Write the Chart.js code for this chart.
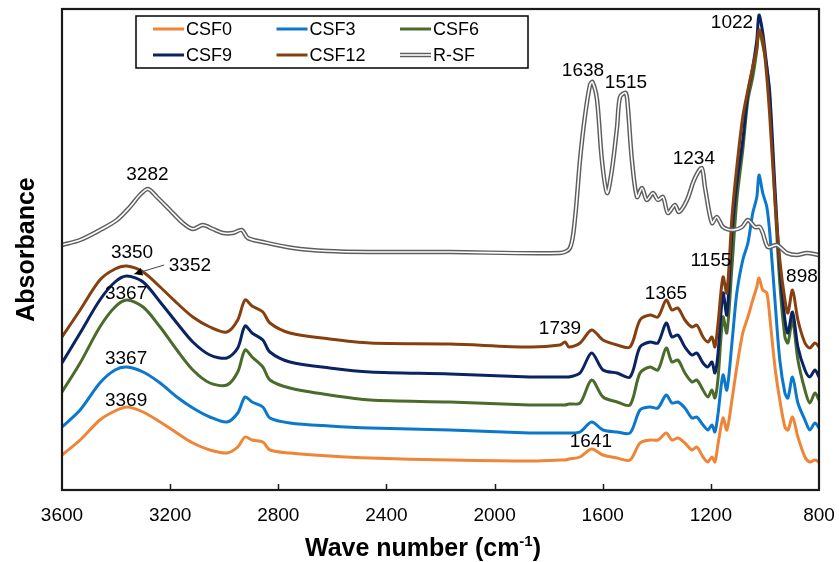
<!DOCTYPE html>
<html>
<head>
<meta charset="utf-8">
<script src="https://cdn.jsdelivr.net/npm/chart.js@4.4.1/dist/chart.umd.min.js"></script>
<style>
    html, body { margin: 0; padding: 0; background: #fff; }
</style>
</head>
<body>
<canvas id="ftir" width="839" height="562"></canvas>
<script>
// Wave numbers (cm-1) of the CSF spectra
const WN_CSF = [3600, 3533, 3460, 3404, 3360, 3300, 3237, 3175, 3116, 3053, 2990, 2950, 2923, 2897, 2857, 2831, 2757, 2610, 2460, 2165, 1870, 1758,
    1739, 1725, 1684, 1641, 1599, 1547, 1499, 1462, 1425, 1396, 1365, 1344, 1322, 1296, 1270, 1252, 1229, 1211, 1196, 1185,
    1174, 1155, 1141, 1122, 1104, 1082, 1063, 1045, 1030, 1022, 1008, 993, 982, 963, 945, 926, 915, 898, 878, 852, 834, 815, 800]

// Absorbance (a.u., stacked offsets as in the figure)
const CSF0 = [35, 50, 70, 79, 83, 78, 68, 57, 47, 40, 37, 43, 53, 50, 48, 40, 37, 34, 32, 30, 29, 30,
    30, 31, 33, 41, 35, 32, 30, 47, 50, 50, 57, 50, 52, 47, 40, 43, 33, 28, 33, 28,
    45, 72, 60, 90, 123, 157, 173, 190, 203, 212, 200, 197, 173, 123, 90, 63, 60, 73, 53, 33, 28, 30, 28]
const CSF3 = [63, 80, 107, 120, 123, 118, 107, 93, 82, 73, 68, 77, 93, 88, 83, 72, 67, 64, 62, 60, 57, 57,
    57, 57, 58, 68, 60, 58, 57, 80, 83, 82, 95, 87, 88, 82, 72, 73, 65, 60, 65, 58,
    75, 115, 100, 147, 197, 230, 247, 277, 293, 315, 297, 283, 257, 190, 130, 97, 92, 113, 87, 70, 60, 67, 62]
const CSF6 = [98, 127, 163, 183, 190, 183, 163, 140, 120, 107, 105, 118, 140, 133, 123, 110, 102, 95, 90, 88, 85, 85,
    85, 86, 87, 110, 93, 88, 85, 117, 123, 120, 142, 128, 130, 117, 108, 110, 100, 93, 100, 92,
    110, 173, 157, 223, 290, 340, 390, 413, 440, 460, 445, 423, 390, 290, 207, 153, 147, 170, 130, 100, 87, 97, 90]
const CSF9 = [127, 157, 190, 208, 214, 208, 188, 167, 148, 135, 132, 142, 164, 157, 150, 138, 128, 122, 118, 116, 113, 113,
    113, 113, 117, 137, 120, 117, 113, 143, 148, 147, 167, 153, 155, 143, 135, 137, 127, 123, 128, 117,
    135, 197, 175, 257, 307, 350, 397, 423, 450, 475, 457, 423, 397, 303, 223, 170, 157, 178, 143, 120, 113, 120, 113]
const CSF12 = [153, 180, 210, 221, 224, 218, 203, 187, 173, 163, 158, 170, 190, 184, 178, 167, 157, 151, 147, 146, 143, 145,
    148, 143, 147, 160, 150, 145, 143, 170, 175, 173, 190, 180, 182, 170, 163, 165, 153, 148, 153, 143,
    165, 213, 197, 273, 323, 373, 400, 423, 442, 460, 450, 413, 373, 290, 230, 190, 177, 200, 170, 147, 142, 147, 143]

// Raw silk fibroin
const WN_RSF = [3600, 3533, 3459, 3397, 3349, 3312, 3282, 3249, 3201, 3153, 3116, 3079, 3042, 3005, 2968, 2935, 2913, 2857, 2746, 2620,
    2461, 2165, 1758, 1721, 1703, 1684, 1666, 1647, 1638, 1621, 1603, 1584, 1566, 1547, 1536, 1515, 1507, 1492, 1473, 1455,
    1437, 1414, 1396, 1377, 1359, 1333, 1318, 1288, 1262, 1234, 1222, 1196, 1178, 1155, 1118, 1085, 1063, 1037, 1019, 1008,
    989, 956, 919, 882, 845, 800]
const RSF = [245, 250, 260, 270, 283, 295, 301, 293, 280, 267, 261, 265, 261, 257, 257, 260, 252, 248, 242, 239,
    238, 238, 237, 242, 270, 330, 373, 405, 408, 390, 330, 297, 320, 363, 393, 397, 383, 330, 293, 302,
    290, 297, 290, 293, 277, 285, 278, 290, 310, 322, 303, 267, 273, 263, 260, 263, 270, 263, 263, 257,
    243, 245, 237, 235, 237, 235]

const X_TICKS_STEP = 400

// Peak labels: text, wave number and absorbance of the label centre
const PEAK_TEXT = ['3282', '3350', '3352', '3367', '3367', '3369', '1638', '1515', '1234', '1022', '1155', '898', '1365', '1739', '1641']
const PEAK_X    = [3284, 3341, 3127, 3363, 3363, 3363, 1673, 1514, 1263, 1122, 1200, 863, 1366, 1758, 1644]
const PEAK_Y    = [315, 237, 224, 196, 131, 89, 419, 407, 331, 467, 229, 213, 196, 161, 48]

const NAMES  = ['CSF0', 'CSF3', 'CSF6', 'CSF9', 'CSF12', 'R-SF']
const COLORS = ['#EF8536', '#0B78CC', '#4A6B2A', '#0A2463', '#86400F', '#5E5E5E']

const FONT = '"Liberation Sans", Arial, sans-serif'

const pts = (xs, ys) => xs.map((x, i) => ({ x, y: ys[i] }))

const SERIES = [CSF0, CSF3, CSF6, CSF9, CSF12]
const datasets = SERIES.map((s, i) => ({
    label: NAMES[i],
    data: pts(WN_CSF, s),
    borderColor: COLORS[i],
    borderWidth: 3,
    order: 6 - i
}))
// R-SF: grey outline with a white core
datasets.push({ label: 'R-SF', data: pts(WN_RSF, RSF), borderColor: COLORS[5], borderWidth: 4.5, order: 1 })
datasets.push({ label: 'R-SF core', data: pts(WN_RSF, RSF), borderColor: '#ffffff', borderWidth: 1.6, order: 0 })

const decor = {
    id: 'decor',
    afterDatasetsDraw(chart) {
        const { ctx, chartArea: a, scales: { x, y } } = chart
        ctx.save()

        // -- ticks pointing inwards --
        ctx.strokeStyle = '#1a1a1a'
        ctx.lineWidth = 1.5
        x.ticks.forEach(t => {
            if (t.value === x.min || t.value === x.max) return
            const px = Math.round(x.getPixelForValue(t.value)) + 0.5
            ctx.beginPath()
            ctx.moveTo(px, a.bottom)
            ctx.lineTo(px, a.bottom - 6)
            ctx.stroke()
        })

        // -- frame --
        ctx.lineWidth = 2.2
        ctx.strokeRect(a.left, a.top, a.right - a.left, a.bottom - a.top)

        // -- x title with superscript, centred on the figure --
        const big = 'bold 25px ' + FONT, small = 'bold 15px ' + FONT
        const t1 = 'Wave number (cm', t2 = '-1', t3 = ')'
        ctx.font = big
        const w1 = ctx.measureText(t1).width, w3 = ctx.measureText(t3).width
        ctx.font = small
        const w2 = ctx.measureText(t2).width
        let tx = 423 - (w1 + w2 + w3) / 2
        const ty = 556
        ctx.fillStyle = '#000'
        ctx.textAlign = 'left'
        ctx.textBaseline = 'alphabetic'
        ctx.font = big
        ctx.fillText(t1, tx, ty)
        ctx.font = small
        ctx.fillText(t2, tx + w1, ty - 10)
        ctx.font = big
        ctx.fillText(t3, tx + w1 + w2, ty)

        // -- peak labels --
        ctx.font = '19px ' + FONT
        ctx.textAlign = 'center'
        ctx.textBaseline = 'middle'
        PEAK_TEXT.forEach((t, i) => {
            ctx.fillText(t, x.getPixelForValue(PEAK_X[i]), y.getPixelForValue(PEAK_Y[i]))
        })

        // -- arrow from 3352 to the CSF9 band --
        const x0 = x.getPixelForValue(3222), y0 = y.getPixelForValue(225)
        const x1 = x.getPixelForValue(3333), y1 = y.getPixelForValue(216)
        ctx.strokeStyle = '#444'
        ctx.lineWidth = 1
        ctx.beginPath()
        ctx.moveTo(x0, y0)
        ctx.lineTo(x1, y1)
        ctx.stroke()
        const ang = Math.atan2(y1 - y0, x1 - x0)
        ctx.fillStyle = '#000'
        ctx.beginPath()
        ctx.moveTo(x1, y1)
        ctx.lineTo(x1 - 9 * Math.cos(ang - 0.45), y1 - 9 * Math.sin(ang - 0.45))
        ctx.lineTo(x1 - 9 * Math.cos(ang + 0.45), y1 - 9 * Math.sin(ang + 0.45))
        ctx.closePath()
        ctx.fill()

        // -- legend box --
        const lx = a.left + 74, ly = a.top + 7
        ctx.fillStyle = '#fff'
        ctx.fillRect(lx, ly, 392, 52)
        ctx.strokeStyle = '#000'
        ctx.lineWidth = 1.5
        ctx.strokeRect(lx, ly, 392, 52)
        ctx.font = '18px ' + FONT
        ctx.textAlign = 'left'
        NAMES.forEach((n, i) => {
            const cx = lx + 17 + (i % 3) * 123.5
            const cy = ly + 13 + Math.floor(i / 3) * 26
            ctx.beginPath()
            ctx.moveTo(cx, cy)
            ctx.lineTo(cx + 31, cy)
            if (n === 'R-SF') {
                ctx.strokeStyle = COLORS[i]; ctx.lineWidth = 4.5; ctx.stroke()
                ctx.strokeStyle = '#fff'; ctx.lineWidth = 1.6; ctx.stroke()
            } else {
                ctx.strokeStyle = COLORS[i]; ctx.lineWidth = 3; ctx.stroke()
            }
            ctx.fillStyle = '#000'
            ctx.fillText(n, cx + 33, cy + 1)
        })

        ctx.restore()
    }
}

new Chart(document.getElementById('ftir'), {
    type: 'line',
    data: { datasets },
    options: {
        responsive: false,
        animation: false,
        events: [],
        elements: { point: { radius: 0 }, line: { tension: 0.3, fill: false } },
        layout: { padding: { top: 9, right: 20, left: 0, bottom: 0 } },
        plugins: { legend: { display: false }, tooltip: { enabled: false } },
        scales: {
            x: {
                type: 'linear',
                reverse: true,
                min: 800,
                max: 3600,
                grid: { display: false, drawTicks: false },
                border: { display: false },
                ticks: { stepSize: X_TICKS_STEP, color: '#000', padding: 14, maxRotation: 0,
                         font: { family: FONT, size: 19 },
                         callback: v => String(v) },
                title: { display: false },
                afterFit: s => { s.height = 72; s.paddingLeft = 0; s.paddingRight = 0 }
            },
            y: {
                min: 0,
                max: 481,
                grid: { display: false, drawTicks: false },
                border: { display: false },
                ticks: { display: false },
                title: { display: true, text: 'Absorbance', color: '#000',
                         font: { family: FONT, size: 25, weight: 'bold', lineHeight: 1.2 },
                         padding: { top: 12, bottom: 0 } },
                afterFit: s => { s.width = 62 }
            }
        }
    },
    plugins: [decor]
})
</script>
</body>
</html>
